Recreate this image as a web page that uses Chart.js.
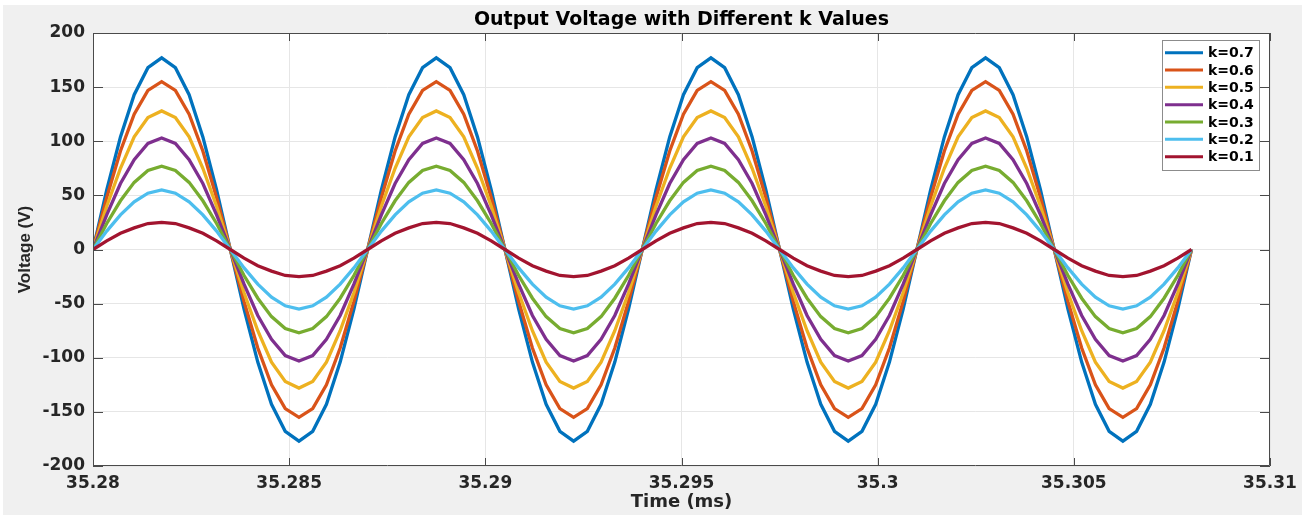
<!DOCTYPE html>
<html>
<head>
<meta charset="utf-8">
<title>Output Voltage with Different k Values</title>
<script src="https://cdn.jsdelivr.net/npm/chart.js@4.4.1/dist/chart.umd.min.js"></script>
<style>
    html, body { margin: 0; padding: 0; background: #ffffff; }
    #chart { display: block; }
</style>
</head>
<body>
<canvas id="chart" width="1307" height="515"></canvas>
<script>
// time axis (ms)
const timeMs = [
    35.28, 35.28035, 35.2807, 35.28105, 35.2814, 35.28175, 35.2821, 35.28245, 35.2828, 35.28315, 35.2835,
    35.28385, 35.2842, 35.28455, 35.2849, 35.28525, 35.2856, 35.28595, 35.2863, 35.28665, 35.287,
    35.28735, 35.2877, 35.28805, 35.2884, 35.28875, 35.2891, 35.28945, 35.2898, 35.29015, 35.2905,
    35.29085, 35.2912, 35.29155, 35.2919, 35.29225, 35.2926, 35.29295, 35.2933, 35.29365, 35.294,
    35.29435, 35.2947, 35.29505, 35.2954, 35.29575, 35.2961, 35.29645, 35.2968, 35.29715, 35.2975,
    35.29785, 35.2982, 35.29855, 35.2989, 35.29925, 35.2996, 35.29995, 35.3003, 35.30065, 35.301,
    35.30135, 35.3017, 35.30205, 35.3024, 35.30275, 35.3031, 35.30345, 35.3038, 35.30415, 35.3045,
    35.30485, 35.3052, 35.30555, 35.3059, 35.30625, 35.3066, 35.30695, 35.3073, 35.30765, 35.308
];

// voltage (V) for each k
const vK07 = [
    0, 55, 104, 143, 168, 177, 168, 143, 104, 55, 0, -55, -104, -143, -168, -177, -168, -143, -104, -55,
    0, 55, 104, 143, 168, 177, 168, 143, 104, 55, 0, -55, -104, -143, -168, -177, -168, -143, -104, -55,
    0, 55, 104, 143, 168, 177, 168, 143, 104, 55, 0, -55, -104, -143, -168, -177, -168, -143, -104, -55,
    0, 55, 104, 143, 168, 177, 168, 143, 104, 55, 0, -55, -104, -143, -168, -177, -168, -143, -104, -55,
    0
];
const vK06 = [
    0, 48, 91, 125, 147, 155, 147, 125, 91, 48, 0, -48, -91, -125, -147, -155, -147, -125, -91, -48,
    0, 48, 91, 125, 147, 155, 147, 125, 91, 48, 0, -48, -91, -125, -147, -155, -147, -125, -91, -48,
    0, 48, 91, 125, 147, 155, 147, 125, 91, 48, 0, -48, -91, -125, -147, -155, -147, -125, -91, -48,
    0, 48, 91, 125, 147, 155, 147, 125, 91, 48, 0, -48, -91, -125, -147, -155, -147, -125, -91, -48,
    0
];
const vK05 = [
    0, 40, 75, 104, 122, 128, 122, 104, 75, 40, 0, -40, -75, -104, -122, -128, -122, -104, -75, -40,
    0, 40, 75, 104, 122, 128, 122, 104, 75, 40, 0, -40, -75, -104, -122, -128, -122, -104, -75, -40,
    0, 40, 75, 104, 122, 128, 122, 104, 75, 40, 0, -40, -75, -104, -122, -128, -122, -104, -75, -40,
    0, 40, 75, 104, 122, 128, 122, 104, 75, 40, 0, -40, -75, -104, -122, -128, -122, -104, -75, -40,
    0
];
const vK04 = [
    0, 32, 61, 83, 98, 103, 98, 83, 61, 32, 0, -32, -61, -83, -98, -103, -98, -83, -61, -32,
    0, 32, 61, 83, 98, 103, 98, 83, 61, 32, 0, -32, -61, -83, -98, -103, -98, -83, -61, -32,
    0, 32, 61, 83, 98, 103, 98, 83, 61, 32, 0, -32, -61, -83, -98, -103, -98, -83, -61, -32,
    0, 32, 61, 83, 98, 103, 98, 83, 61, 32, 0, -32, -61, -83, -98, -103, -98, -83, -61, -32,
    0
];
const vK03 = [
    0, 24, 45, 62, 73, 77, 73, 62, 45, 24, 0, -24, -45, -62, -73, -77, -73, -62, -45, -24,
    0, 24, 45, 62, 73, 77, 73, 62, 45, 24, 0, -24, -45, -62, -73, -77, -73, -62, -45, -24,
    0, 24, 45, 62, 73, 77, 73, 62, 45, 24, 0, -24, -45, -62, -73, -77, -73, -62, -45, -24,
    0, 24, 45, 62, 73, 77, 73, 62, 45, 24, 0, -24, -45, -62, -73, -77, -73, -62, -45, -24,
    0
];
const vK02 = [
    0, 17, 32, 44, 52, 55, 52, 44, 32, 17, 0, -17, -32, -44, -52, -55, -52, -44, -32, -17,
    0, 17, 32, 44, 52, 55, 52, 44, 32, 17, 0, -17, -32, -44, -52, -55, -52, -44, -32, -17,
    0, 17, 32, 44, 52, 55, 52, 44, 32, 17, 0, -17, -32, -44, -52, -55, -52, -44, -32, -17,
    0, 17, 32, 44, 52, 55, 52, 44, 32, 17, 0, -17, -32, -44, -52, -55, -52, -44, -32, -17,
    0
];
const vK01 = [
    0, 8, 15, 20, 24, 25, 24, 20, 15, 8, 0, -8, -15, -20, -24, -25, -24, -20, -15, -8,
    0, 8, 15, 20, 24, 25, 24, 20, 15, 8, 0, -8, -15, -20, -24, -25, -24, -20, -15, -8,
    0, 8, 15, 20, 24, 25, 24, 20, 15, 8, 0, -8, -15, -20, -24, -25, -24, -20, -15, -8,
    0, 8, 15, 20, 24, 25, 24, 20, 15, 8, 0, -8, -15, -20, -24, -25, -24, -20, -15, -8,
    0
];

const seriesLabels = ['k=0.7', 'k=0.6', 'k=0.5', 'k=0.4', 'k=0.3', 'k=0.2', 'k=0.1'];
const seriesValues = [vK07, vK06, vK05, vK04, vK03, vK02, vK01];
const seriesColors = ['#0072BD', '#D95319', '#EDB120', '#7E2F8E', '#77AC30', '#4DBEEE', '#A2142F'];

// axis range and tick spacing
const xMin = 35.28, xMax = 35.31, xStep = 0.005;
const yMin = -200, yMax = 200, yStep = 50;

const axisColor = '#4a4a4a';
const gridColor = '#e6e6e6';

// grey figure background + white axes area
const backgroundPlugin = {
    id: 'figureBackground',
    beforeDraw(chart) {
        const ctx = chart.ctx;
        const area = chart.chartArea;
        ctx.save();
        ctx.fillStyle = '#ffffff';
        ctx.fillRect(0, 0, chart.width, chart.height);
        ctx.fillStyle = '#f0f0f0';
        ctx.fillRect(3, 5, 1299, chart.height - 5);
        ctx.fillStyle = '#ffffff';
        ctx.fillRect(area.left, area.top, area.right - area.left, area.bottom - area.top);
        ctx.restore();
    }
};

// box on all four sides, inward tick marks, legend
const boxPlugin = {
    id: 'matlabBox',
    afterDraw(chart) {
        const ctx = chart.ctx;
        const a = chart.chartArea;
        const xs = chart.scales.x;
        const ys = chart.scales.y;
        ctx.save();
        ctx.strokeStyle = axisColor;
        ctx.lineWidth = 1;
        ctx.beginPath();
        ctx.rect(a.left + 0.5, a.top + 0.5, a.right - a.left - 1, a.bottom - a.top - 1);
        ctx.stroke();

        ctx.beginPath();
        xs.ticks.forEach(t => {
            const px = Math.round(xs.getPixelForValue(t.value)) + 0.5;
            ctx.moveTo(px, a.bottom);
            ctx.lineTo(px, a.bottom - 8);
            ctx.moveTo(px, a.top);
            ctx.lineTo(px, a.top + 8);
        });
        ys.ticks.forEach(t => {
            const py = Math.round(ys.getPixelForValue(t.value)) + 0.5;
            ctx.moveTo(a.left, py);
            ctx.lineTo(a.left + 10, py);
            ctx.moveTo(a.right, py);
            ctx.lineTo(a.right - 10, py);
        });
        ctx.stroke();

        // legend box
        const lx = 1162, ly = 40, lw = 97, lh = 130, rowH = 17.33;
        ctx.fillStyle = '#ffffff';
        ctx.fillRect(lx, ly, lw, lh);
        ctx.strokeStyle = '#8c8c8c';
        ctx.strokeRect(lx + 0.5, ly + 0.5, lw, lh);
        ctx.font = 'bold 14px "DejaVu Sans"';
        ctx.textBaseline = 'middle';
        ctx.textAlign = 'left';
        chart.data.datasets.forEach((ds, i) => {
            const cy = ly + 12.7 + i * rowH;
            ctx.strokeStyle = ds.borderColor;
            ctx.lineWidth = 3;
            ctx.beginPath();
            ctx.moveTo(lx + 3, cy);
            ctx.lineTo(lx + 41, cy);
            ctx.stroke();
            ctx.fillStyle = '#000000';
            ctx.fillText(ds.label, lx + 46, cy + 1);
        });
        ctx.restore();
    }
};

const datasets = seriesLabels.map((label, i) => ({
    label: label,
    data: timeMs.map((t, j) => ({ x: t, y: seriesValues[i][j] })),
    borderColor: seriesColors[i],
    backgroundColor: seriesColors[i],
    borderWidth: 3.3,
    pointRadius: 0,
    tension: 0,
    fill: false,
    order: seriesLabels.length - i
}));

new Chart(document.getElementById('chart').getContext('2d'), {
    type: 'line',
    data: { datasets: datasets },
    options: {
        responsive: false,
        animation: false,
        devicePixelRatio: 1,
        layout: { padding: { left: 0, right: 37, top: 0, bottom: 0 } },
        plugins: {
            legend: { display: false },
            tooltip: { enabled: false },
            title: {
                display: true,
                fullSize: false,
                text: 'Output Voltage with Different k Values',
                color: '#000000',
                font: { family: '"DejaVu Sans"', size: 19, weight: 'bold', lineHeight: 1.1 },
                padding: { top: 10, bottom: 2.1 }
            }
        },
        scales: {
            x: {
                type: 'linear',
                min: xMin,
                max: xMax,
                afterFit: s => { s.height = 49; },
                ticks: {
                    stepSize: xStep,
                    color: '#262626',
                    padding: 7,
                    maxRotation: 0,
                    font: { family: '"DejaVu Sans"', size: 17, weight: 'bold' },
                    callback: v => String(parseFloat(v.toFixed(3)))
                },
                grid: { color: gridColor, drawTicks: false },
                border: { display: false },
                title: {
                    display: true,
                    text: 'Time (ms)',
                    color: '#262626',
                    font: { family: '"DejaVu Sans"', size: 18, weight: 'bold' },
                    padding: { top: 0, bottom: 2 }
                }
            },
            y: {
                type: 'linear',
                min: yMin,
                max: yMax,
                afterFit: s => { s.width = 93; },
                ticks: {
                    stepSize: yStep,
                    color: '#262626',
                    padding: 8,
                    font: { family: '"DejaVu Sans"', size: 17, weight: 'bold' }
                },
                grid: { color: gridColor, drawTicks: false },
                border: { display: false },
                title: {
                    display: true,
                    text: 'Voltage (V)',
                    color: '#262626',
                    font: { family: '"Liberation Sans"', size: 17, weight: 'bold' },
                    padding: { top: 15, bottom: 0 }
                }
            }
        }
    },
    plugins: [backgroundPlugin, boxPlugin]
});
</script>
</body>
</html>
